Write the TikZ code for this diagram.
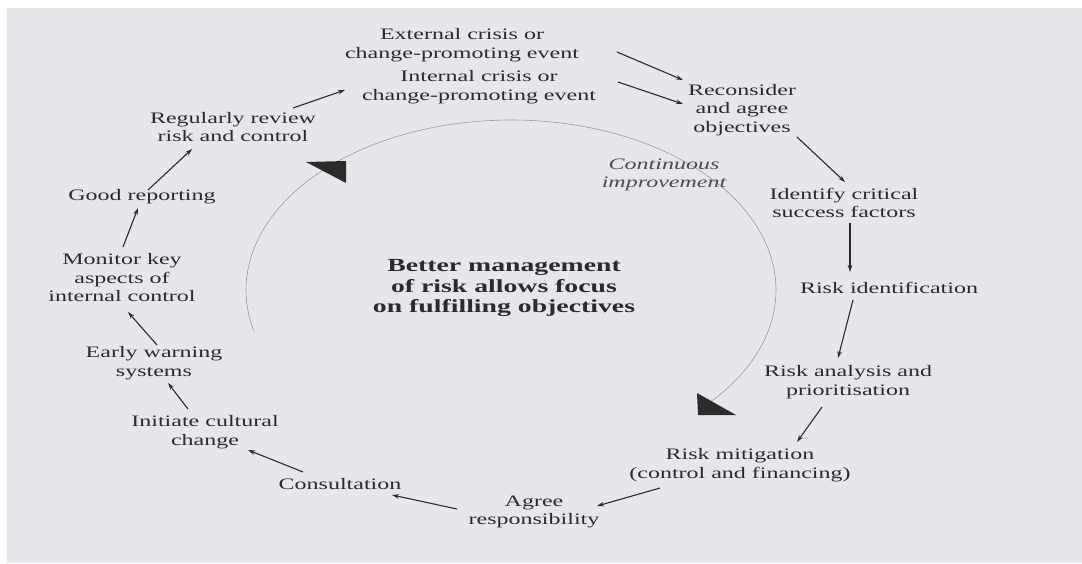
\documentclass[tikz,border=0pt]{standalone}
\usepackage{fontspec}
\setmainfont{Liberation Serif}[FakeStretch=1.5]
\usepackage{xcolor}
\usepackage{tikz}
\usetikzlibrary{arrows.meta}
\definecolor{InkGrey}{HTML}{2B2B2B}
\definecolor{PaperGrey}{HTML}{E7E6EB}
\definecolor{LoopGrey}{HTML}{9C9AA0}

\begin{document}
\begin{tikzpicture}[
  x=1pt, y=-1pt,
  >={Stealth[length=7pt,width=4.5pt]},
  cycarr/.style={->, line width=1.1pt, color=InkGrey},
  stage/.style={font=\fontsize{16}{18.5}\selectfont, text=InkGrey, inner sep=0pt, align=center},
  focus/.style={font=\fontsize{18.5}{20.5}\selectfont\bfseries, text=InkGrey, inner sep=0pt, align=center},
  note/.style={font=\fontsize{16}{17.5}\selectfont\itshape, text=InkGrey!85, inner sep=0pt, align=center},
  loopline/.style={line width=0.6pt, color=LoopGrey},
  looptip/.style={fill=InkGrey, draw=none},
]

% ===== Page =====
  \fill[white] (0,0) rectangle (1082,563);
  \fill[PaperGrey] (7,8) rectangle (1082,563);
  \useasboundingbox (0,0) rectangle (1082,563);

% ===== Inner loop : continuous improvement =====
  \draw[loopline] (511,290) ++(41.5:265 and 170)
    arc[start angle=41.5, end angle=-194, x radius=265, y radius=170];
  \fill[looptip] (306,162) -- (346,161) -- (346,183) -- cycle;
  \fill[looptip] (697,393) -- (698,415) -- (736,415) -- cycle;

  \node[focus] (centre) at (504,288) {Better management\\of risk allows focus\\on fulfilling objectives};
  \node[note] (cont) at (664,175) {Continuous\\improvement};

% ===== Outer cycle : stages =====
  \node[stage] (ext)     at (462,45)  {External crisis or\\change-promoting event};
  \node[stage] (int)     at (479,87)  {Internal crisis or\\change-promoting event};
  \node[stage] (recon)   at (742,110) {Reconsider\\and agree\\objectives};
  \node[stage] (csf)     at (844,203) {Identify critical\\success factors};
  \node[stage] (riskid)  at (889,288) {Risk identification};
  \node[stage] (riskan)  at (848,382) {Risk analysis and\\prioritisation};
  \node[stage] (riskmit) at (740,465) {Risk mitigation\\(control and financing)};
  \node[stage] (agree)   at (534,512) {Agree\\responsibility};
  \node[stage] (consult) at (340,484) {Consultation};
  \node[stage] (culture) at (205,432) {Initiate cultural\\change};
  \node[stage] (early)   at (154,363) {Early warning\\systems};
  \node[stage] (monitor) at (122,278) {Monitor key\\aspects of\\internal control};
  \node[stage] (report)  at (142,197) {Good reporting};
  \node[stage] (review)  at (233,127) {Regularly review\\risk and control};

% ===== Outer cycle : arrows =====
  \draw[cycarr] ([xshift=155pt,yshift=-7pt]ext.center)   -- ([xshift=-59pt,yshift=30pt]recon.center);
  \draw[cycarr] ([xshift=139pt,yshift=5pt]int.center)    -- ([xshift=-59pt,yshift=6pt]recon.center);
  \draw[cycarr] ([xshift=55pt,yshift=-27pt]recon.center) -- ([xshift=1pt,yshift=21pt]csf.center);
  \draw[cycarr] ([xshift=6pt,yshift=-20pt]csf.center)    -- ([xshift=-39pt,yshift=16pt]riskid.center);
  \draw[cycarr] ([xshift=-36pt,yshift=-12pt]riskid.center) -- ([xshift=-10pt,yshift=24pt]riskan.center);
  \draw[cycarr] ([xshift=-26pt,yshift=-25pt]riskan.center) -- ([xshift=57pt,yshift=23pt]riskmit.center);
  \draw[cycarr] ([xshift=-80pt,yshift=-23pt]riskmit.center) -- ([xshift=63pt,yshift=6pt]agree.center);
  \draw[cycarr] ([xshift=-77pt,yshift=3pt]agree.center)  -- ([xshift=52pt,yshift=-11pt]consult.center);
  \draw[cycarr] ([xshift=-37pt,yshift=12pt]consult.center) -- ([xshift=43pt,yshift=-18pt]culture.center);
  \draw[cycarr] ([xshift=-17pt,yshift=23pt]culture.center) -- ([xshift=14pt,yshift=-20pt]early.center);
  \draw[cycarr] ([xshift=3pt,yshift=18pt]early.center)   -- ([xshift=6pt,yshift=-34pt]monitor.center);
  \draw[cycarr] ([xshift=1pt,yshift=31pt]monitor.center) -- ([xshift=-4pt,yshift=-11pt]report.center);
  \draw[cycarr] ([xshift=6pt,yshift=7pt]report.center)   -- ([xshift=-41pt,yshift=-22pt]review.center);
  \draw[cycarr] ([xshift=60pt,yshift=19pt]review.center) -- ([xshift=-134pt,yshift=-3pt]int.center);

\end{tikzpicture}
\end{document}
